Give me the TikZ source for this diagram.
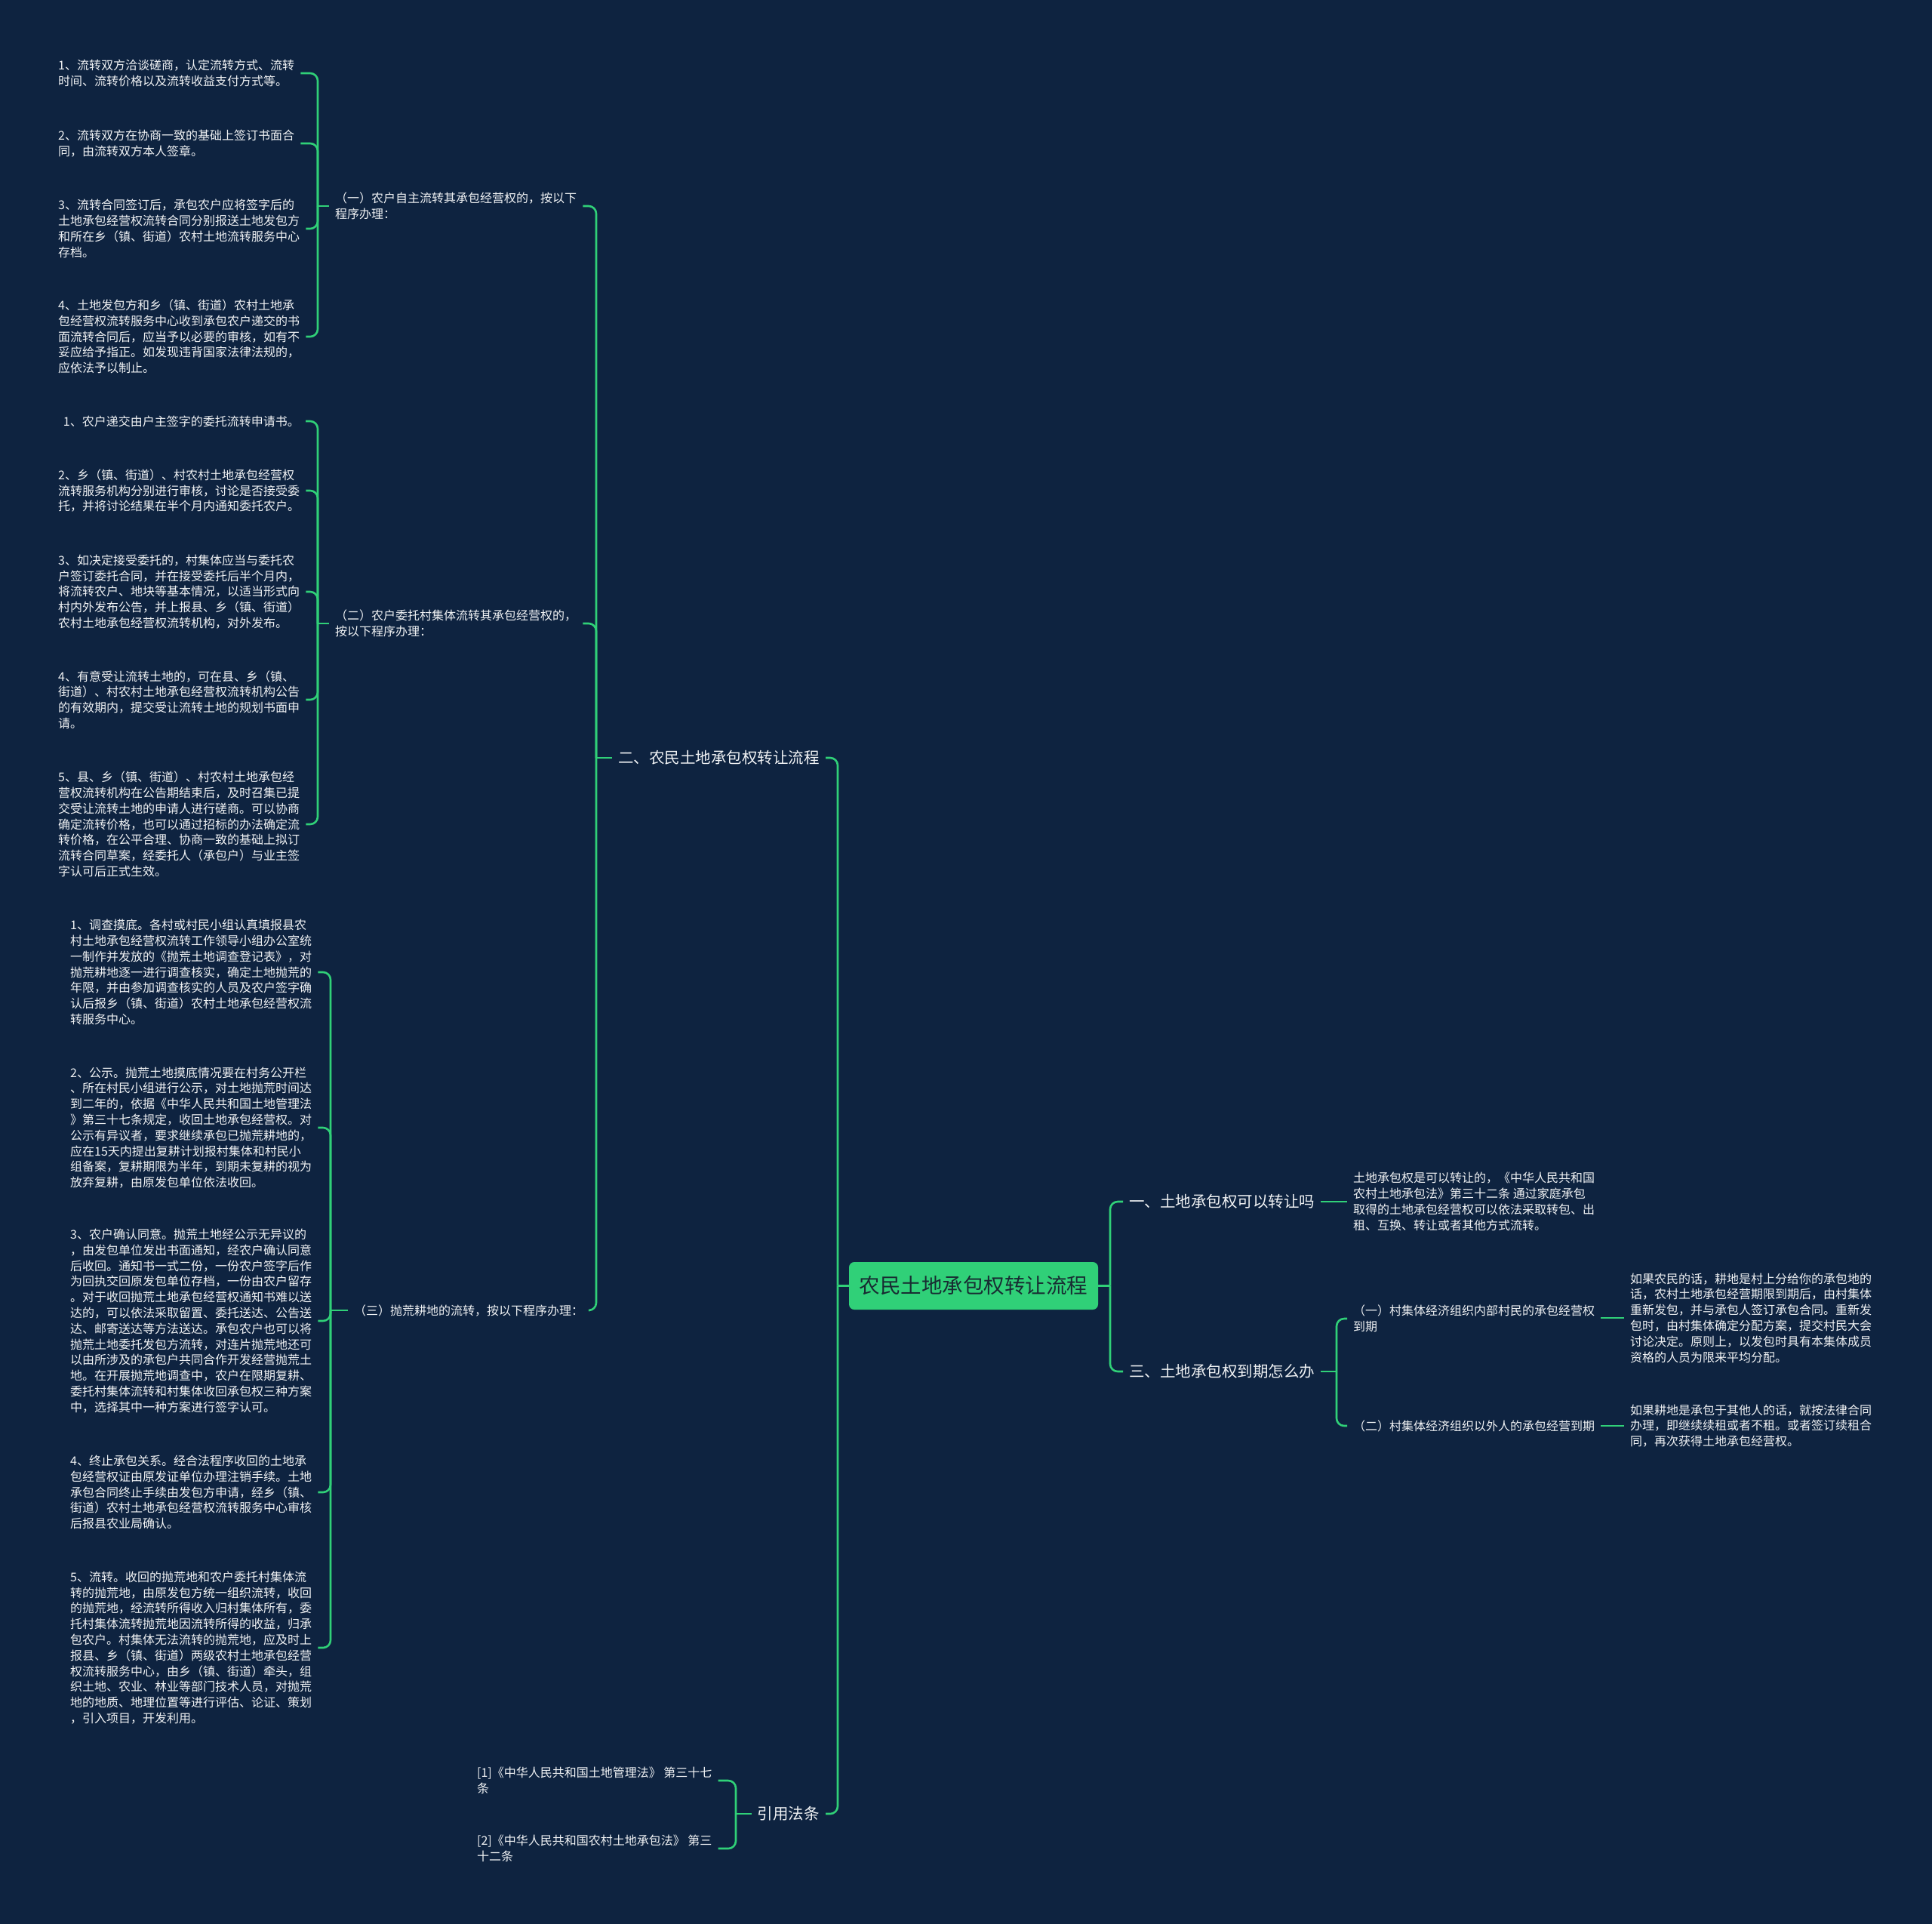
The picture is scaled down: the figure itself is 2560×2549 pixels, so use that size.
\documentclass[tikz,border=0pt]{standalone}
\usepackage{fontspec}
\setmainfont{Noto Sans CJK SC}
\definecolor{bgc}{RGB}{14,35,64}
\definecolor{gc}{RGB}{48,208,120}
\definecolor{txc}{RGB}{240,242,244}
\definecolor{rootfg}{RGB}{24,44,50}
\tikzset{
  conn/.style={draw=gc, line width=2.6pt, rounded corners=10pt},
  leaftxt/.style={text=txc, align=left, inner xsep=8pt, inner ysep=0pt, font=\fontsize{16pt}{20.8pt}\selectfont},
  midtxt/.style={text=txc, align=left, inner xsep=8pt, inner ysep=0pt, font=\fontsize{16pt}{21pt}\selectfont},
  brtxt/.style={text=txc, align=left, inner xsep=8pt, inner ysep=0pt, font=\fontsize{20.5pt}{24pt}\selectfont},
  rootnode/.style={fill=gc, text=rootfg, rounded corners=7pt, minimum width=330pt, minimum height=63pt, inner sep=0pt, font=\fontsize{27.5pt}{32pt}\selectfont},
}
\begin{document}
\begin{tikzpicture}[x=1pt,y=-1pt]
\fill[bgc] (0,0) rectangle (2560,2549);
\useasboundingbox (0,0) rectangle (2560,2549);

% root
\node[rootnode] (root) at (1290,1703.5) {农民土地承包权转让流程};

% ---------- right side ----------
\node[brtxt, anchor=west] (b1) at (1488,1592) {一、土地承包权可以转让吗};
\node[brtxt, anchor=west] (b3) at (1488,1817) {三、土地承包权到期怎么办};
\node[leaftxt, anchor=west] (b1a) at (1785,1592) {土地承包权是可以转让的，《中华人民共和国\\农村土地承包法》第三十二条 通过家庭承包\\取得的土地承包经营权可以依法采取转包、出\\租、互换、转让或者其他方式流转。};
\node[midtxt, anchor=west] (b3a) at (1785,1747) {（一）村集体经济组织内部村民的承包经营权\\到期};
\node[midtxt, anchor=west] (b3b) at (1785,1889) {（二）村集体经济组织以外人的承包经营到期};
\node[leaftxt, anchor=west] (b3a1) at (2152,1746) {如果农民的话，耕地是村上分给你的承包地的\\话，农村土地承包经营期限到期后，由村集体\\重新发包，并与承包人签订承包合同。重新发\\包时，由村集体确定分配方案，提交村民大会\\讨论决定。原则上，以发包时具有本集体成员\\资格的人员为限来平均分配。};
\node[leaftxt, anchor=west] (b3b1) at (2152,1889) {如果耕地是承包于其他人的话，就按法律合同\\办理，即继续续租或者不租。或者签订续租合\\同，再次获得土地承包经营权。};

\coordinate (jR) at (1471,1703.5);
\coordinate (j3) at (1771,1817);
\draw[conn] (root.east) -- (jR);
\draw[conn] (jR) |- (b1.west);
\draw[conn] (jR) |- (b3.west);
\draw[conn] (b1.east) -- (b1a.west);
\draw[conn] (b3.east) -- (j3);
\draw[conn] (j3) |- (b3a.west);
\draw[conn] (j3) |- (b3b.west);
\draw[conn] (b3a.east |- b3a1.west) -- (b3a1.west);
\draw[conn] (b3b.east) -- (b3b1.west);

% ---------- left side ----------
\node[brtxt, anchor=east] (b2) at (1094,1004) {二、农民土地承包权转让流程};
\node[brtxt, anchor=east] (b4) at (1094,2403) {引用法条};

\node[midtxt, anchor=west] (m1) at (436,273) {（一）农户自主流转其承包经营权的，按以下\\程序办理：};
\node[midtxt, anchor=west] (m2) at (436,826) {（二）农户委托村集体流转其承包经营权的，\\按以下程序办理：};
\node[midtxt, anchor=west] (m3) at (461,1736) {（三）抛荒耕地的流转，按以下程序办理：};

% group 1
\node[leaftxt, anchor=west] (a1) at (69,97) {1、流转双方洽谈磋商，认定流转方式、流转\\时间、流转价格以及流转收益支付方式等。};
\node[leaftxt, anchor=west] (a2) at (69,190) {2、流转双方在协商一致的基础上签订书面合\\同，由流转双方本人签章。};
\node[leaftxt, anchor=west] (a3) at (69,303) {3、流转合同签订后，承包农户应将签字后的\\土地承包经营权流转合同分别报送土地发包方\\和所在乡（镇、街道）农村土地流转服务中心\\存档。};
\node[leaftxt, anchor=west] (a4) at (69,446) {4、土地发包方和乡（镇、街道）农村土地承\\包经营权流转服务中心收到承包农户递交的书\\面流转合同后，应当予以必要的审核，如有不\\妥应给予指正。如发现违背国家法律法规的，\\应依法予以制止。};

% group 2
\node[leaftxt, anchor=east] (c1) at (405,558) {1、农户递交由户主签字的委托流转申请书。};
\node[leaftxt, anchor=west] (c2) at (69,650) {2、乡（镇、街道）、村农村土地承包经营权\\流转服务机构分别进行审核，讨论是否接受委\\托，并将讨论结果在半个月内通知委托农户。};
\node[leaftxt, anchor=west] (c3) at (69,784) {3、如决定接受委托的，村集体应当与委托农\\户签订委托合同，并在接受委托后半个月内，\\将流转农户、地块等基本情况，以适当形式向\\村内外发布公告，并上报县、乡（镇、街道）\\农村土地承包经营权流转机构，对外发布。};
\node[leaftxt, anchor=west] (c4) at (69,927) {4、有意受让流转土地的，可在县、乡（镇、\\街道）、村农村土地承包经营权流转机构公告\\的有效期内，提交受让流转土地的规划书面申\\请。};
\node[leaftxt, anchor=west] (c5) at (69,1092) {5、县、乡（镇、街道）、村农村土地承包经\\营权流转机构在公告期结束后，及时召集已提\\交受让流转土地的申请人进行磋商。可以协商\\确定流转价格，也可以通过招标的办法确定流\\转价格，在公平合理、协商一致的基础上拟订\\流转合同草案，经委托人（承包户）与业主签\\字认可后正式生效。};

% group 3
\node[leaftxt, anchor=west] (d1) at (85,1288) {1、调查摸底。各村或村民小组认真填报县农\\村土地承包经营权流转工作领导小组办公室统\\一制作并发放的《抛荒土地调查登记表》，对\\抛荒耕地逐一进行调查核实，确定土地抛荒的\\年限，并由参加调查核实的人员及农户签字确\\认后报乡（镇、街道）农村土地承包经营权流\\转服务中心。};
\node[leaftxt, anchor=west] (d2) at (85,1494) {2、公示。抛荒土地摸底情况要在村务公开栏\\、所在村民小组进行公示，对土地抛荒时间达\\到二年的，依据《中华人民共和国土地管理法\\》第三十七条规定，收回土地承包经营权。对\\公示有异议者，要求继续承包已抛荒耕地的，\\应在15天内提出复耕计划报村集体和村民小\\组备案，复耕期限为半年，到期未复耕的视为\\放弃复耕，由原发包单位依法收回。};
\node[leaftxt, anchor=west] (d3) at (85,1750) {3、农户确认同意。抛荒土地经公示无异议的\\，由发包单位发出书面通知，经农户确认同意\\后收回。通知书一式二份，一份农户签字后作\\为回执交回原发包单位存档，一份由农户留存\\。对于收回抛荒土地承包经营权通知书难以送\\达的，可以依法采取留置、委托送达、公告送\\达、邮寄送达等方法送达。承包农户也可以将\\抛荒土地委托发包方流转，对连片抛荒地还可\\以由所涉及的承包户共同合作开发经营抛荒土\\地。在开展抛荒地调查中，农户在限期复耕、\\委托村集体流转和村集体收回承包权三种方案\\中，选择其中一种方案进行签字认可。};
\node[leaftxt, anchor=west] (d4) at (85,1977) {4、终止承包关系。经合法程序收回的土地承\\包经营权证由原发证单位办理注销手续。土地\\承包合同终止手续由发包方申请，经乡（镇、\\街道）农村土地承包经营权流转服务中心审核\\后报县农业局确认。};
\node[leaftxt, anchor=west] (d5) at (85,2183) {5、流转。收回的抛荒地和农户委托村集体流\\转的抛荒地，由原发包方统一组织流转，收回\\的抛荒地，经流转所得收入归村集体所有，委\\托村集体流转抛荒地因流转所得的收益，归承\\包农户。村集体无法流转的抛荒地，应及时上\\报县、乡（镇、街道）两级农村土地承包经营\\权流转服务中心，由乡（镇、街道）牵头，组\\织土地、农业、林业等部门技术人员，对抛荒\\地的地质、地理位置等进行评估、论证、策划\\，引入项目，开发利用。};

% references
\node[leaftxt, anchor=west] (r1) at (624,2359) {[1]《中华人民共和国土地管理法》 第三十七\\条};
\node[leaftxt, anchor=west] (r2) at (624,2449) {[2]《中华人民共和国农村土地承包法》 第三\\十二条};

% junctions
\coordinate (jL) at (1110,1703.5);
\coordinate (j2) at (790,1004);
\coordinate (jm1) at (421,273);
\coordinate (jm2) at (421,826);
\coordinate (jm3) at (438,1736);
\coordinate (j4) at (975,2403);

\draw[conn] (root.west) -- (jL);
\draw[conn] (jL) |- (b2.east);
\draw[conn] (jL) |- (b4.east);

\draw[conn] (b2.west) -- (j2);
\draw[conn] (j2) |- (m1.east);
\draw[conn] (j2) |- (m2.east);
\draw[conn] (j2) |- (m3.east);

\draw[conn] (m1.west) -- (jm1);
\foreach \n in {a1,a2,a3,a4} { \draw[conn] (jm1) |- (\n.east); }
\draw[conn] (m2.west) -- (jm2);
\foreach \n in {c1,c2,c3,c4,c5} { \draw[conn] (jm2) |- (\n.east); }
\draw[conn] (m3.west) -- (jm3);
\foreach \n in {d1,d2,d3,d4,d5} { \draw[conn] (jm3) |- (\n.east); }

\draw[conn] (b4.west) -- (j4);
\draw[conn] (j4) |- (r1.east);
\draw[conn] (j4) |- (r2.east);
\end{tikzpicture}
\end{document}
